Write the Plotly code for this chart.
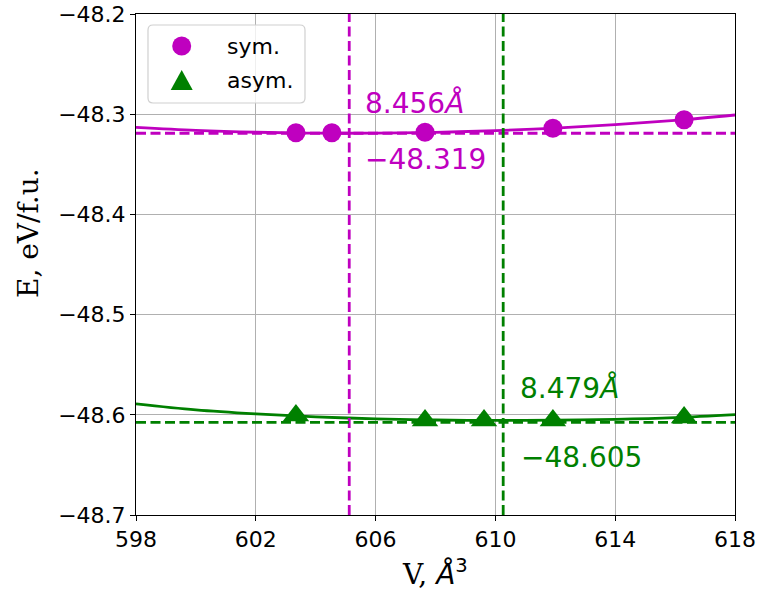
import plotly.graph_objects as go

# --- data ---
sym_V = [603.34, 604.54, 607.65, 611.92, 616.30]
sym_E = [-48.3185, -48.3186, -48.3180, -48.3141, -48.3055]
asym_V = [603.34, 607.65, 609.62, 611.92, 616.30]
asym_E = [-48.6007, -48.6057, -48.6058, -48.6057, -48.6027]

fit_V = [598, 600, 602, 604, 606, 608, 610, 612, 614, 616, 618]
sym_fit_E = [-48.3132, -48.3162, -48.3180, -48.3189, -48.3189, -48.3181,
             -48.3164, -48.3139, -48.3105, -48.3062, -48.3008]
asym_fit_E = [-48.5890, -48.5950, -48.5990, -48.6020, -48.6040, -48.6052,
              -48.6056, -48.6054, -48.6045, -48.6028, -48.5998]

sym_V0, sym_E0 = 605.12, -48.319
asym_V0, asym_E0 = 610.26, -48.6075
sym_a_label, sym_E_label = "8.456", "−48.319"
asym_a_label, asym_E_label = "8.479", "−48.605"
legend_names = ["sym.", "asym."]

x_range = [598, 618]
y_range = [-48.7, -48.2]
x_ticks = [598, 602, 606, 610, 614, 618]
y_ticks = [-48.7, -48.6, -48.5, -48.4, -48.3, -48.2]

MAG = "#bf00bf"
GRN = "#008000"

# plot-area geometry in pixels (for paper-coordinate placement of decorations)
L, R, T, B = 136, 735, 14, 515
W, H = R - L, B - T


def px(x):
    return (x - L) / W


def py(y):
    return (B - y) / H


fig = go.Figure()

# fitted curves
fig.add_trace(go.Scatter(x=fit_V, y=sym_fit_E, mode="lines", line=dict(color=MAG, width=2.8, shape="spline"),
                         showlegend=False, hoverinfo="skip"))
fig.add_trace(go.Scatter(x=fit_V, y=asym_fit_E, mode="lines", line=dict(color=GRN, width=2.8, shape="spline"),
                         showlegend=False, hoverinfo="skip"))

# reference lines
for v0, e0, c in [(sym_V0, sym_E0, MAG), (asym_V0, asym_E0, GRN)]:
    fig.add_trace(go.Scatter(x=x_range, y=[e0, e0], mode="lines",
                             line=dict(color=c, width=2.8, dash="10px,4.5px"), showlegend=False, hoverinfo="skip"))
    fig.add_trace(go.Scatter(x=[v0, v0], y=y_range, mode="lines",
                             line=dict(color=c, width=2.8, dash="10px,4.5px"), showlegend=False, hoverinfo="skip"))

# data points
fig.add_trace(go.Scatter(x=sym_V, y=sym_E, mode="markers", name=legend_names[0], showlegend=False,
                         marker=dict(color=MAG, size=19, symbol="circle", line=dict(width=0))))
fig.add_trace(go.Scatter(x=asym_V, y=asym_E, mode="markers", name=legend_names[1], showlegend=False,
                         marker=dict(color=GRN, size=23, symbol="triangle-up", line=dict(width=0))))

fs = 28
annos = [
    (sym_V0 + 0.45, -48.289, sym_a_label + "<i>Å</i>", MAG),
    (sym_V0 + 0.47, -48.3457, sym_E_label, MAG),
    (asym_V0 + 0.50, -48.5737, asym_a_label + "<i>Å</i>", GRN),
    (asym_V0 + 0.54, -48.6426, asym_E_label, GRN),
]
for x, y, t, c in annos:
    fig.add_annotation(x=x, y=y, xref="x", yref="y", text=t, showarrow=False,
                       xanchor="left", yanchor="middle", font=dict(family="DejaVu Sans", size=fs, color=c))

# axis titles
fig.add_annotation(xref="paper", yref="paper", x=px(28), y=py(233),
                   text="E, eV/f.u.", showarrow=False, textangle=-90,
                   xanchor="center", yanchor="middle", font=dict(family="DejaVu Serif", size=28, color="black"))
fig.add_annotation(xref="paper", yref="paper", x=px(435), y=py(572),
                   text='V, <span style="font-family:DejaVu Sans"><i>Å</i><sup>3</sup></span>', showarrow=False,
                   xanchor="center", yanchor="middle", font=dict(family="DejaVu Serif", size=28, color="black"))

# legend (drawn by hand so the symbols keep their size)
bx0, bx1, by0, by1, rr = 148, 305, 25, 103, 5
box_path = (f"M {px(bx0 + rr)},{py(by0)} L {px(bx1 - rr)},{py(by0)} Q {px(bx1)},{py(by0)} {px(bx1)},{py(by0 + rr)} "
            f"L {px(bx1)},{py(by1 - rr)} Q {px(bx1)},{py(by1)} {px(bx1 - rr)},{py(by1)} "
            f"L {px(bx0 + rr)},{py(by1)} Q {px(bx0)},{py(by1)} {px(bx0)},{py(by1 - rr)} "
            f"L {px(bx0)},{py(by0 + rr)} Q {px(bx0)},{py(by0)} {px(bx0 + rr)},{py(by0)} Z")
fig.add_shape(type="path", xref="paper", yref="paper", path=box_path, layer="above",
              fillcolor="rgba(255,255,255,0.8)", line=dict(color="#d0d0d0", width=1.2))
cx, cy1, cy2 = 181.7, 46, 80
fig.add_shape(type="circle", xref="paper", yref="paper", layer="above",
              x0=px(cx - 9.5), x1=px(cx + 9.5), y0=py(cy1 + 9.5), y1=py(cy1 - 9.5),
              fillcolor=MAG, line=dict(width=0))
tri = f"M {px(cx)},{py(cy2 - 10)} L {px(cx + 11)},{py(cy2 + 10)} L {px(cx - 11)},{py(cy2 + 10)} Z"
fig.add_shape(type="path", xref="paper", yref="paper", path=tri, layer="above",
              fillcolor=GRN, line=dict(width=0))
for yy, name in [(cy1, legend_names[0]), (cy2, legend_names[1])]:
    fig.add_annotation(xref="paper", yref="paper", x=px(225), y=py(yy), text=name, showarrow=False,
                       xanchor="left", yanchor="middle", font=dict(family="DejaVu Sans", size=22, color="black"))

axis_common = dict(showline=True, linecolor="black", linewidth=1.1, mirror=True,
                   showgrid=True, gridcolor="#b0b0b0", gridwidth=1.1,
                   ticks="outside", ticklen=5, tickwidth=1.1, tickcolor="black", automargin=False,
                   tickfont=dict(family="DejaVu Sans", size=22, color="black"), zeroline=False)

fig.update_xaxes(range=x_range, tickvals=x_ticks, ticktext=[str(v) for v in x_ticks], **axis_common)
fig.update_yaxes(range=y_range, tickvals=y_ticks, tickformat=".1f", **axis_common)

fig.update_layout(
    width=760, height=594,
    margin=dict(l=L, r=760 - R, t=T, b=594 - B),
    plot_bgcolor="white", paper_bgcolor="white",
    showlegend=False,
)

fig.write_html("out.html")
